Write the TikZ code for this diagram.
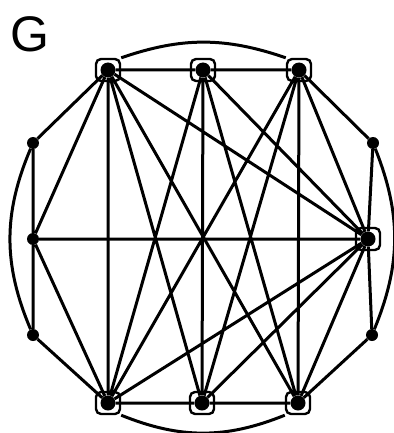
\documentclass[tikz,border=0pt]{standalone}
\usepackage{fontspec}
\setmainfont{Liberation Sans}
\begin{document}
\begin{tikzpicture}[x=1pt,y=-1pt,
  dot/.style={circle,fill=black,minimum size=12pt,inner sep=0pt},
  bigdot/.style={circle,fill=black,minimum size=15pt,inner sep=0pt},
  boxn/.style={draw=black,line width=2.4pt,rounded corners=5pt,minimum width=24pt,minimum height=22pt,inner sep=0pt},
  edge/.style={line width=3pt,black},
  lbl/.style={font=\fontsize{50}{50}\selectfont,inner sep=0pt}]
\useasboundingbox (0,0) rectangle (393,433);
\node[lbl] (title) at (30,34) {G};
% vertices
\node[bigdot] (A) at (108,70) {};
\node[bigdot] (B) at (203,70) {};
\node[bigdot] (C) at (299,70) {};
\node[dot] (D) at (33,143) {};
\node[dot] (E) at (33,239) {};
\node[dot] (F) at (33,335) {};
\node[dot] (G) at (373,143) {};
\node[bigdot] (H) at (368,239) {};
\node[dot] (I) at (372,335) {};
\node[bigdot] (J) at (108,403) {};
\node[bigdot] (K) at (202,403) {};
\node[bigdot] (M) at (298,403) {};
% boxes
\foreach \n in {A,B,C,H,J,K,M}{\node[boxn] (box\n) at (\n) {};}
% clique edges
\draw[edge] (A)--(B) (B)--(C) (A)--(J) (A)--(K) (A)--(M) (A)--(H)
  (B)--(J) (B)--(K) (B)--(M) (B)--(H)
  (C)--(J) (C)--(K) (C)--(M) (C)--(H)
  (J)--(K) (K)--(M) (J)--(H) (K)--(H) (M)--(H);
\draw[edge] (boxA.north east) to[bend left=19] (boxC.north west);
\draw[edge] (boxJ.south east) to[bend right=22] (boxM.south west);
% rim edges
\draw[edge] (A)--(D) (D)--(E) (E)--(F) (F)--(J) (A)--(E) (E)--(J) (E)--(H)
  (C)--(G) (G)--(H) (H)--(I) (I)--(M);
\draw[edge] (D) to[bend right=23] (F);
\draw[edge] (G) to[bend left=22] (I);
\end{tikzpicture}
\end{document}
